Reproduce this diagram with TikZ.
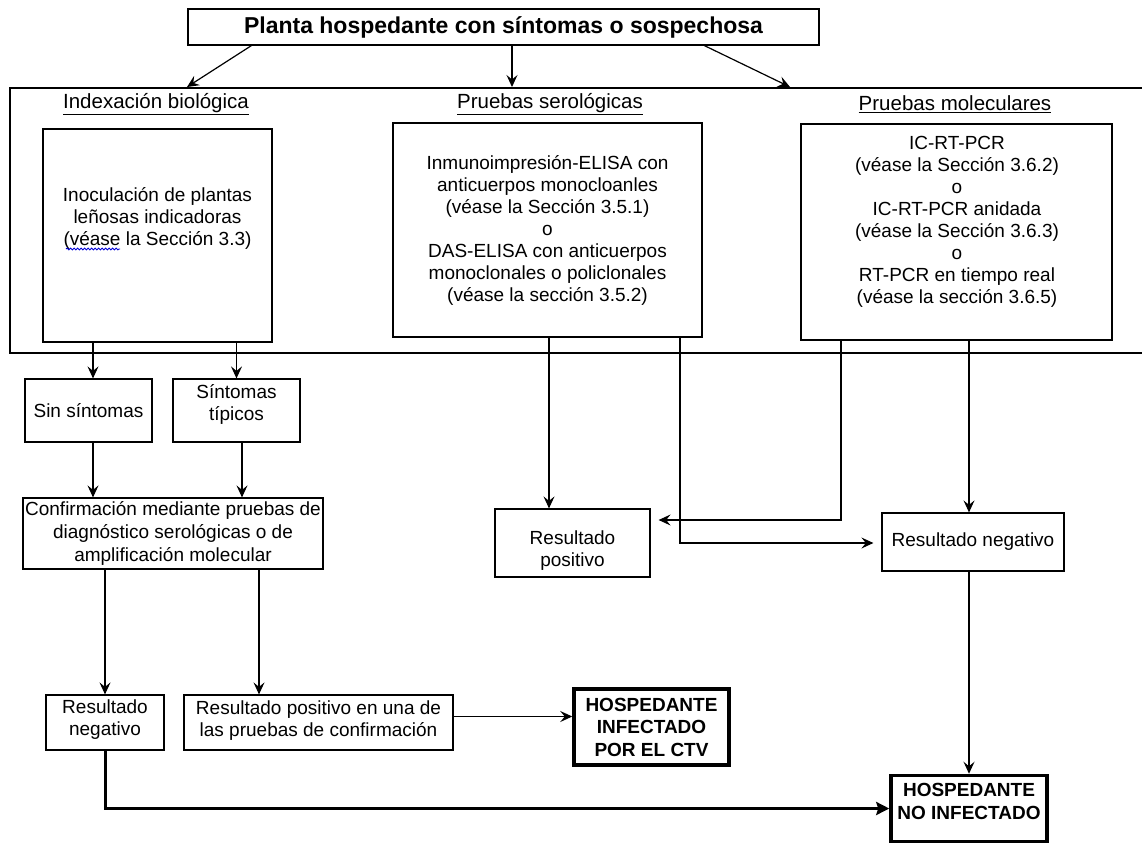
\documentclass[tikz,border=0pt]{standalone}
\usepackage{fontspec}
\setmainfont{Liberation Sans}
\usetikzlibrary{arrows.meta,decorations.pathmorphing}

\begin{document}
\begin{tikzpicture}[x=1pt,y=-1pt,
    caja/.style={draw,line width=1.2pt,inner sep=0pt,align=center,font=\fontsize{19}{22}\selectfont},
    final/.style={caja,line width=3.5pt,font=\fontsize{19}{22.5}\selectfont\bfseries},
    txt/.style={inner sep=0pt,align=center,font=\fontsize{19}{22}\selectfont},
    titulo/.style={inner sep=0pt,font=\fontsize{20.5}{24}\selectfont},
    flecha/.style={line width=1.2pt,-{Stealth[length=12pt,width=11pt,inset=4.5pt]}},
    gruesa/.style={line width=3pt,-{Stealth[length=13pt,width=13pt,inset=2pt]}}]
        \useasboundingbox (0,0) rectangle (1142,843);
        \node[caja,minimum width=631,minimum height=36,font=\fontsize{23}{26}\selectfont\bfseries] (planta) at (503.5,27) {Planta hospedante con síntomas o sospechosa};

        \begin{scope}[line width=1.2pt]
            \draw (1142,88) -- (10,88) -- (10,353) -- (1142,353);
            \coordinate (m-ind) at (187,87); \coordinate (m-ser) at (512,87); \coordinate (m-mol) at (790,87);
            \node[titulo] (h-ind) at (156,104) {\underline{Indexación biológica}};
            \node[titulo] (h-ser) at (550,104) {\underline{Pruebas serológicas}};
            \node[titulo] (h-mol) at (955,104) {\underline{Pruebas moleculares}};
        \end{scope}
        \draw[flecha] ([xshift=64pt]planta.south west) -- (m-ind); \draw[flecha] ([xshift=8.5pt]planta.south) -- (m-ser); \draw[flecha] ([xshift=517pt]planta.south west) -- (m-mol);

        \node[caja,minimum width=229,minimum height=213] (inoc) at (157.5,235.5) {};
        \node[txt] (inoc-txt) at (157.5,218) {Inoculación de plantas\\leñosas indicadoras\\(véase la Sección 3.3)};
        \draw[blue!85!black,line width=.9pt,decorate,decoration={snake,amplitude=.9pt,segment length=3.5pt}] (66,249) -- (120,249);
        \node[caja,minimum width=309,minimum height=214] (sero) at (547.5,230) {Inmunoimpresión-ELISA con\\anticuerpos monocloanles\\(véase la Sección 3.5.1)\\o\\DAS-ELISA con anticuerpos\\monoclonales o policlonales\\(véase la sección 3.5.2)};
        \node[caja,minimum width=311,minimum height=216] (molec) at (956.5,232) {};
        \node[txt] (molec-txt) at (957,221.5) {IC-RT-PCR\\(véase la Sección 3.6.2)\\o\\IC-RT-PCR anidada\\(véase la Sección 3.6.3)\\o\\RT-PCR en tiempo real\\(véase la sección 3.6.5)};

        \node[caja,minimum width=127,minimum height=63] (sin) at (88.5,410.5) {Sin síntomas};
        \node[caja,minimum width=127,minimum height=63] (tip) at (236.5,410.5) {};
        \node[txt] (tip-txt) at (236.5,404) {Síntomas\\típicos};
        \node[caja,minimum width=300,minimum height=71,font=\fontsize{19}{23}\selectfont] (conf) at (173,533.5) {Confirmación mediante pruebas de\\diagnóstico serológicas o de\\amplificación molecular};
        \node[caja,minimum width=118,minimum height=55] (neg1) at (105,722.5) {};
        \node[txt] (neg1-txt) at (105,720) {Resultado\\negativo};
        \node[caja,minimum width=269,minimum height=55] (posuna) at (318.5,722.5) {};
        \node[txt] (posuna-txt) at (318.5,721) {Resultado positivo en una de\\las pruebas de confirmación};
        \node[final,minimum width=155,minimum height=76] (infect) at (651.5,727) {HOSPEDANTE\\INFECTADO\\POR EL CTV};

        \node[caja,minimum width=155,minimum height=68] (respos) at (572.5,543) {};
        \node[txt] (respos-txt) at (572.5,551) {Resultado\\positivo};
        \node[caja,minimum width=182,minimum height=58] (resneg) at (973,542) {Resultado negativo};
        \node[final,minimum width=156,minimum height=66] (noinf) at (969,808.5) {};
        \node[txt,font=\fontsize{19}{22.5}\selectfont\bfseries] (noinf-txt) at (969,801.5) {HOSPEDANTE\\NO INFECTADO};

        \draw[flecha] ([xshift=4.5pt]sin.north |- inoc.south) -- ([xshift=4.5pt]sin.north); \draw[flecha] (tip.north |- inoc.south) -- (tip.north);
        \draw[flecha] ([xshift=4.5pt]sin.south) -- ([xshift=4.5pt]sin.south |- conf.north); \draw[flecha] ([xshift=5.5pt]tip.south) -- ([xshift=5.5pt]tip.south |- conf.north);
        \draw[flecha] (neg1.north |- conf.south) -- (neg1.north); \draw[flecha] ([xshift=-59.5pt]posuna.north |- conf.south) -- ([xshift=-59.5pt]posuna.north);
        \draw[flecha] ([yshift=6pt]posuna.east) -- ([yshift=6pt]posuna.east -| infect.west);
        \draw[gruesa] (neg1.south) |- (noinf.west);

        \draw[flecha] ([xshift=1.5pt]sero.south) -- ([xshift=1.5pt]sero.south |- respos.north);
        \draw[flecha,shorten >=8pt] ([xshift=132.5pt]sero.south) |- ([yshift=-1pt]resneg.west);
        \draw[flecha,shorten >=8pt] ([xshift=-115.5pt]molec.south) |- ([yshift=23pt]respos.east);
        \draw[flecha] ([xshift=12.5pt]molec.south) -- ([xshift=12.5pt]molec.south |- resneg.north);
        \draw[flecha] (noinf.north |- resneg.south) -- (noinf.north);
    \end{tikzpicture}
\end{document}
